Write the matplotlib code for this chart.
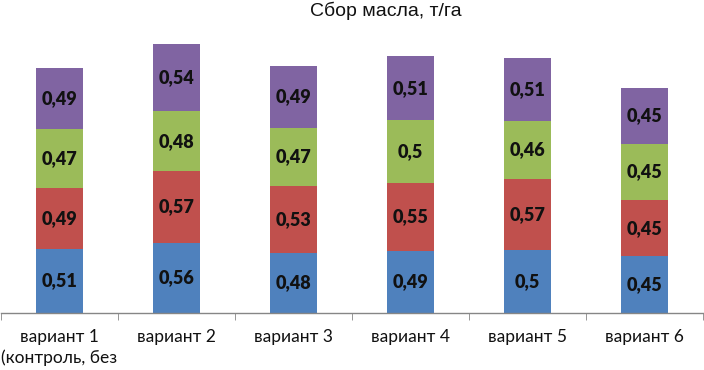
import matplotlib
matplotlib.use("Agg")
import matplotlib.pyplot as plt
import numpy as np

categories = ["вариант 1\n(контроль, без", "вариант 2", "вариант 3",
              "вариант 4", "вариант 5", "вариант 6"]
blue_vals = [0.51, 0.56, 0.48, 0.49, 0.50, 0.45]
red_vals = [0.49, 0.57, 0.53, 0.55, 0.57, 0.45]
green_vals = [0.47, 0.48, 0.47, 0.50, 0.46, 0.45]
purple_vals = [0.49, 0.54, 0.49, 0.51, 0.51, 0.45]
colors = ["#4F81BD", "#C0504D", "#9BBB59", "#8064A2"]


def _fmt(v: float) -> str:
    return f"{v:.2f}".rstrip("0").rstrip(".").replace(".", ",")


fig = plt.figure(figsize=(7.04, 3.70), dpi=100)
ax = fig.add_axes([1 / 704, 57.5 / 370, 702 / 704, 282.5 / 370])

x = np.arange(len(categories))
bottom = np.zeros(len(categories))
for vals, col in zip([blue_vals, red_vals, green_vals, purple_vals], colors):
    ax.bar(x, vals, width=0.40, bottom=bottom, color=col, linewidth=0)
    for xi, b, v in zip(x, bottom, vals):
        ax.text(xi, b + v / 2, _fmt(v), ha="center", va="center",
                fontsize=13, fontweight="heavy", family="Lato", color="#111111")
    bottom = bottom + np.array(vals)

ax.set_xlim(-0.5, len(categories) - 0.5)
ax.set_ylim(0, 282.5 / 125)
ax.set_yticks([])
for side in ["left", "right", "top"]:
    ax.spines[side].set_visible(False)
ax.spines["bottom"].set_color("#868686")
ax.spines["bottom"].set_linewidth(1.0)

ax.set_xticks(x)
ax.set_xticklabels(categories, fontsize=12.5, family="Lato", color="#111111",
                   linespacing=1.35)
ax.tick_params(axis="x", which="major", length=0, pad=12)
ax.set_xticks(np.arange(-0.5, len(categories), 1.0), minor=True)
ax.tick_params(axis="x", which="minor", length=5, color="#868686", direction="out")
for lbl in ax.get_xticklabels():
    lbl.set_verticalalignment("top")

fig.text(386 / 704, 1 - 11 / 370, "Сбор масла, т/га", ha="center", va="center",
         fontsize=14, family="Liberation Sans", color="#111111")

fig.savefig("out.png", dpi=100)
